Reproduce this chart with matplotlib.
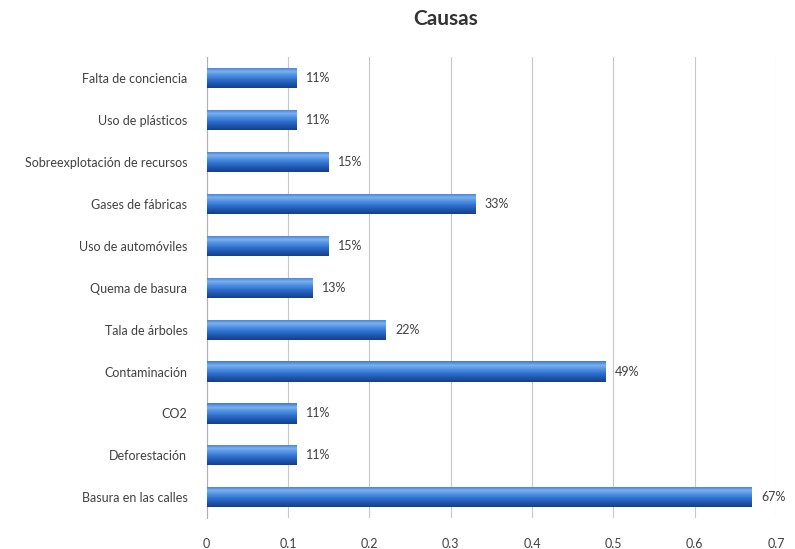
import numpy as np
import matplotlib
matplotlib.use("Agg")
import matplotlib.pyplot as plt
from matplotlib.colors import LinearSegmentedColormap

# Data (bottom to top as drawn)
categories = [
    "Basura en las calles", "Deforestación", "CO2", "Contaminación",
    "Tala de árboles", "Quema de basura", "Uso de automóviles",
    "Gases de fábricas", "Sobreexplotación de recursos",
    "Uso de plásticos", "Falta de conciencia",
]
values = [0.67, 0.11, 0.11, 0.49, 0.22, 0.13, 0.15, 0.33, 0.15, 0.11, 0.11]
labels = ["67%", "11%", "11%", "49%", "22%", "13%", "15%", "33%", "15%", "11%", "11%"]

plt.rcParams["font.family"] = ["Lato", "DejaVu Sans"]

fig = plt.figure(figsize=(7.95, 5.49), dpi=100)
ax = fig.add_axes([0.26, 0.056, 0.716, 0.84])

y = np.arange(len(categories))
bar_h = 0.48
bars = ax.barh(y, values, height=bar_h, color="#2a66c4", zorder=2)

# cylinder-like shading on each bar
cmap = LinearSegmentedColormap.from_list(
    "cyl", ["#163f86", "#1f55ad", "#2e6fcf", "#4f8fe0", "#7ab0ee", "#3d7bd6"])
grad = np.linspace(0, 1, 64).reshape(-1, 1)
for b in bars:
    x0, y0 = b.get_x(), b.get_y()
    w, h = b.get_width(), b.get_height()
    im = ax.imshow(grad, cmap=cmap, aspect="auto", origin="lower",
                   extent=[x0, x0 + w, y0, y0 + h], zorder=3)
    im.set_clip_path(b)

for yi, v, lab in zip(y, values, labels):
    ax.text(v + 0.012, yi, lab, va="center", ha="left", fontsize=9, color="#404040")

ax.set_xlim(0, 0.7)
ax.set_ylim(-0.5, len(categories) - 0.5)
ax.set_xticks(np.arange(0, 0.71, 0.1))
ax.set_xticklabels(["0", "0.1", "0.2", "0.3", "0.4", "0.5", "0.6", "0.7"])
ax.set_yticks(y)
ax.set_yticklabels(categories)
ax.tick_params(axis="both", length=0, labelsize=9, colors="#404040")
ax.tick_params(axis="y", pad=14)
ax.tick_params(axis="x", pad=14)
ax.grid(axis="x", color="#c8c8c8", linewidth=0.8, zorder=0)
for s in ["top", "right", "bottom"]:
    ax.spines[s].set_visible(False)
ax.spines["left"].set_color("#b0b0b0")

fig.text(0.56, 0.965, "Causas", ha="center", va="center",
         fontsize=15, fontweight="bold", color="#333333")

fig.savefig("out.png", dpi=100)
